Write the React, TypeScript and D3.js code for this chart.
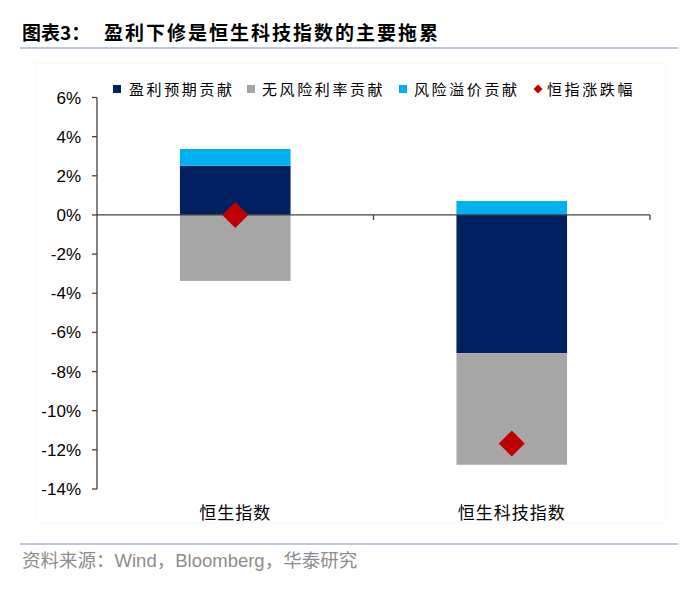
import React from "react";
import * as d3 from "d3";

const categories = ["恒生指数", "恒生科技指数"];
const earnings = [2.52, -7.06];
const riskFree = [-3.37, -5.7];
const riskPremium = [0.85, 0.71];
const indexChange = [0.0, -11.68];
const yTicks = [6, 4, 2, 0, -2, -4, -6, -8, -10, -12, -14];
const seriesNames = ["盈利预期贡献", "无风险利率贡献", "风险溢价贡献", "恒指涨跌幅"];

const NAVY = "#002060";
const GREY = "#A6A6A6";
const CYAN = "#00B0F0";
const RED = "#C00000";

const W = 700;
const H = 592;
const left = 97;
const right = 650;
const top = 97.5;
const bottom = 489;

export default function App() {
  const y = d3.scaleLinear().domain([-14, 6]).range([bottom, top]);
  const x = d3.scaleBand<string>().domain(categories).range([left, right]).paddingInner(0).paddingOuter(0);
  const barW = x.bandwidth() * 0.4;

  const seriesList = [
    { vals: earnings, color: NAVY },
    { vals: riskFree, color: GREY },
    { vals: riskPremium, color: CYAN },
  ];

  const rects: React.ReactNode[] = [];
  categories.forEach((c, i) => {
    let pos = 0;
    let neg = 0;
    const cx = (x(c) as number) + x.bandwidth() / 2;
    seriesList.forEach((s, j) => {
      const v = s.vals[i];
      let y0: number, y1: number;
      if (v >= 0) {
        y0 = pos;
        y1 = pos + v;
        pos = y1;
      } else {
        y0 = neg;
        y1 = neg + v;
        neg = y1;
      }
      const ya = y(Math.max(y0, y1));
      const yb = y(Math.min(y0, y1));
      rects.push(
        <rect key={`${i}-${j}`} x={cx - barW / 2} y={ya} width={barW} height={yb - ya} fill={s.color} />
      );
    });
  });

  const diamond = (cx: number, cy: number, r: number, key: string) => (
    <path key={key} d={`M${cx},${cy - r}L${cx + r},${cy}L${cx},${cy + r}L${cx - r},${cy}Z`} fill={RED} />
  );

  const cjk = "'Noto Sans CJK SC', sans-serif";
  const latin = "'Liberation Sans', Arial, sans-serif";

  const legendItems = [
    { name: seriesNames[0], color: NAVY, sx: 117, tx: 129, type: "sq" },
    { name: seriesNames[1], color: GREY, sx: 251, tx: 262, type: "sq" },
    { name: seriesNames[2], color: CYAN, sx: 403, tx: 414, type: "sq" },
    { name: seriesNames[3], color: RED, sx: 538, tx: 547, type: "dia" },
  ];

  return (
    <svg width={W} height={H} style={{ position: "absolute", left: 0, top: 0, background: "#fff" }}>
      <rect x={0} y={0} width={W} height={H} fill="#fff" />
      <text x={22} y={40} fontFamily={cjk} fontWeight="bold" fontSize={19} fill="#000">
        图表3：
      </text>
      <text x={104} y={40} fontFamily={cjk} fontWeight="bold" fontSize={19} fill="#000" letterSpacing={2}>
        盈利下修是恒生科技指数的主要拖累
      </text>
      <line x1={20} x2={678} y1={48} y2={48} stroke="#9FB4D2" strokeWidth={1.5} />

      <rect x={36} y={63} width={630} height={460} fill="none" stroke="#F8F8F8" strokeWidth={1} />

      {legendItems.map((it, i) => (
        <g key={i}>
          {it.type === "sq" ? (
            <rect x={it.sx - 4} y={85} width={8} height={8} fill={it.color} />
          ) : (
            diamond(it.sx, 89, 4.5, "ld")
          )}
          <text x={it.tx} y={95} fontFamily={cjk} fontSize={15} fill="#000" letterSpacing={2.6}>
            {it.name}
          </text>
        </g>
      ))}

      {rects}

      {/* zero line / x axis */}
      <line x1={left} x2={right} y1={y(0)} y2={y(0)} stroke="#404040" strokeWidth={1.3} />
      {[left + x.bandwidth(), right].map((t, i) => (
        <line key={i} x1={t} x2={t} y1={y(0)} y2={y(0) + 5} stroke="#404040" strokeWidth={1.3} />
      ))}

      {/* y axis */}
      <line x1={left} x2={left} y1={y(6)} y2={y(-14)} stroke="#404040" strokeWidth={1.3} />
      {yTicks.map((t) => (
        <g key={t}>
          <line x1={left - 5} x2={left} y1={y(t)} y2={y(t)} stroke="#404040" strokeWidth={1.3} />
          <text x={81} y={y(t) + 6} textAnchor="end" fontFamily={latin} fontSize={17} fill="#000">
            {`${t}%`}
          </text>
        </g>
      ))}

      {categories.map((c, i) => {
        const cx = (x(c) as number) + x.bandwidth() / 2;
        return diamond(cx, y(indexChange[i]), 13, `d${i}`);
      })}

      {categories.map((c) => (
        <text
          key={c}
          x={(x(c) as number) + x.bandwidth() / 2}
          y={519}
          textAnchor="middle"
          fontFamily={cjk}
          fontSize={17}
          fill="#000"
          letterSpacing={1}
        >
          {c}
        </text>
      ))}

      <line x1={20} x2={678} y1={544} y2={544} stroke="#9FB4D2" strokeWidth={1.5} />
      <text x={22} y={567} fontSize={18.5} fill="#8C8C8C">
        <tspan fontFamily={cjk}>资料来源：</tspan>
        <tspan fontFamily={latin}>Wind</tspan>
        <tspan fontFamily={cjk}>，</tspan>
        <tspan fontFamily={latin}>Bloomberg</tspan>
        <tspan fontFamily={cjk}>，华泰研究</tspan>
      </text>
    </svg>
  );
}
